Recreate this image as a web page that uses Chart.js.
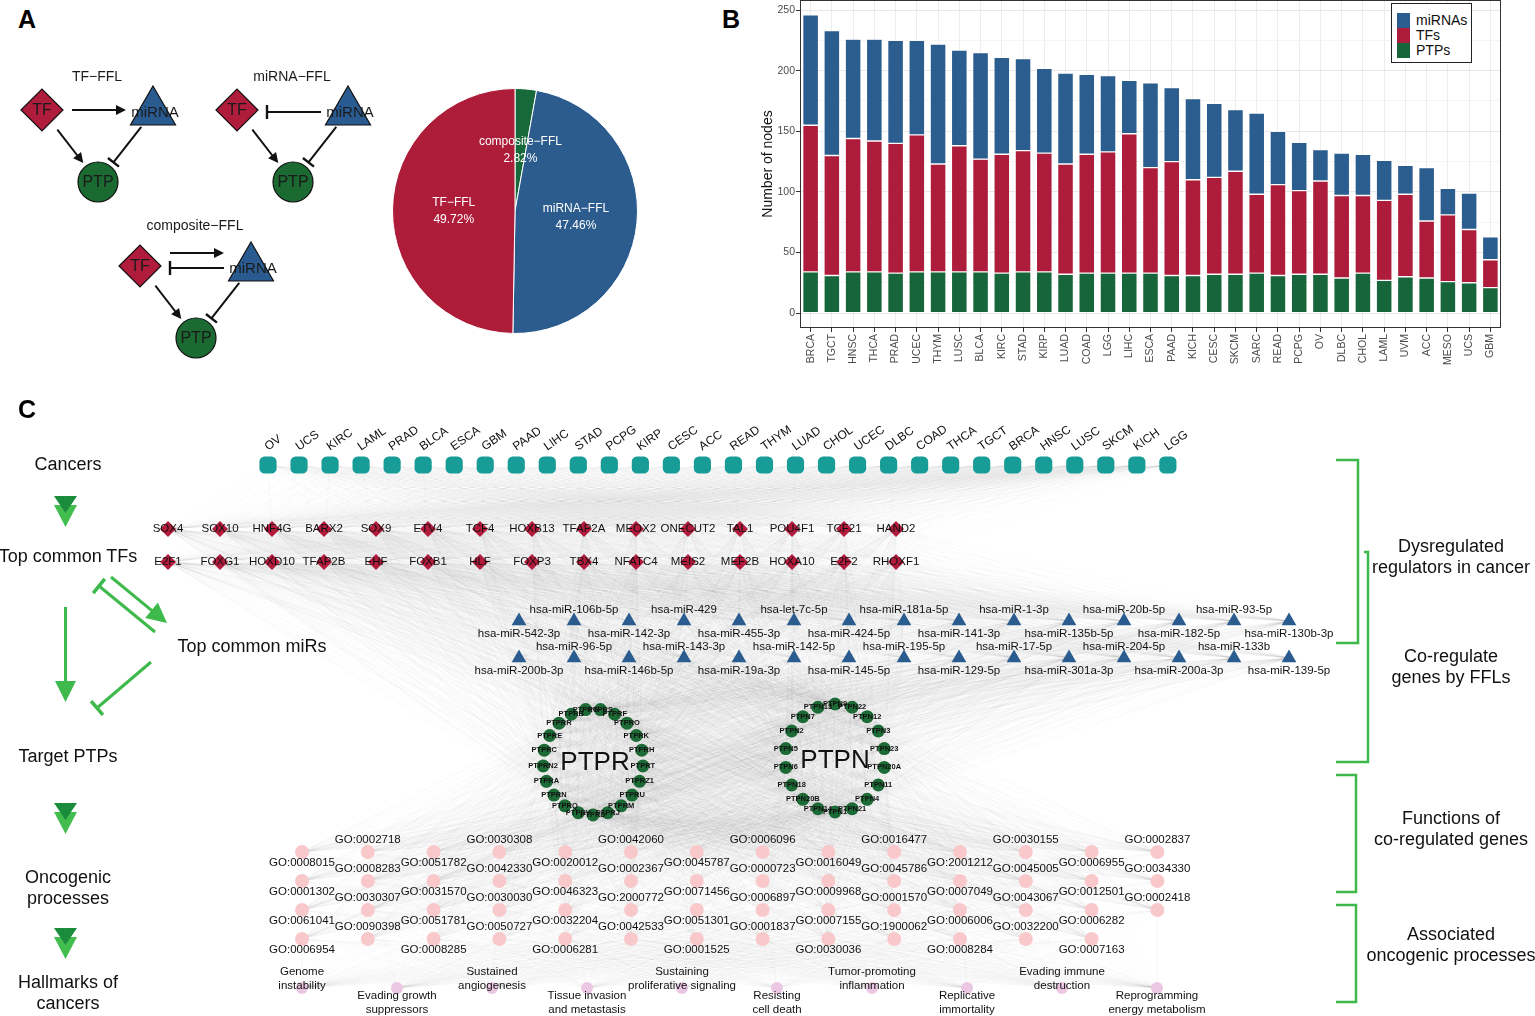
<!DOCTYPE html>
<html>
<head>
<meta charset="utf-8">
<script src="https://cdn.jsdelivr.net/npm/chart.js@4.4.1/dist/chart.umd.min.js"></script>
<style>
  body { margin: 0; background: #fff; font-family: "Liberation Sans", Arial, Helvetica, sans-serif; }
  #page { position: relative; width: 1535px; height: 1016px; overflow: hidden; }
  .box { position: absolute; }
  .letter { position: absolute; font-weight: bold; font-size: 25px; line-height: 25px; color: #000; }
  .lbl { position: absolute; transform: translate(-50%, -50%); white-space: nowrap; text-align: center;
         font-size: 18px; line-height: 21px; color: #111; }
  #legendB { position: absolute; left: 1391px; top: 3px; width: 79px; height: 58px; border: 1px solid #222; background: #fff; }
  #legendB .li { position: absolute; left: 5px; height: 15px; font-size: 14px; line-height: 15px; color: #111; }
  #legendB .li span { display: inline-block; width: 13px; height: 15px; vertical-align: top; margin-right: 6px; }
</style>
</head>
<body>
<div id="page">
  <div class="letter" style="left:18px;top:7px">A</div>
  <canvas id="motifs" class="box" style="left:0;top:40px" width="385" height="320"></canvas>
  <canvas id="pie" class="box" style="left:392px;top:88px" width="246" height="246"></canvas>

  <div class="letter" style="left:722px;top:7px">B</div>
  <canvas id="bars" class="box" style="left:730px;top:0" width="805" height="370"></canvas>
  <div id="legendB">
    <div class="li" style="top:9px"><span style="background:#2b5d8f"></span>miRNAs</div>
    <div class="li" style="top:24px"><span style="background:#ad1c3a"></span>TFs</div>
    <div class="li" style="top:39px"><span style="background:#17653a"></span>PTPs</div>
  </div>

  <canvas id="network" class="box" style="left:0;top:395px" width="1535" height="621"></canvas>
  <div class="letter" style="left:18px;top:397px">C</div>

  <div class="lbl" style="left:68px;top:464px">Cancers</div>
  <div class="lbl" style="left:68px;top:556px">Top common TFs</div>
  <div class="lbl" style="left:252px;top:646px">Top common miRs</div>
  <div class="lbl" style="left:68px;top:756px">Target PTPs</div>
  <div class="lbl" style="left:68px;top:888px">Oncogenic<br>processes</div>
  <div class="lbl" style="left:68px;top:993px">Hallmarks of<br>cancers</div>

  <div class="lbl" style="left:1451px;top:557px">Dysregulated<br>regulators in cancer</div>
  <div class="lbl" style="left:1451px;top:667px">Co-regulate<br>genes by FFLs</div>
  <div class="lbl" style="left:1451px;top:829px">Functions of<br>co-regulated genes</div>
  <div class="lbl" style="left:1451px;top:945px">Associated<br>oncogenic processes</div>
</div>

<script>
const F = '"Liberation Sans", Arial, Helvetica, sans-serif';
Chart.defaults.font.family = F;

// ---------- panel A: pie
const fflTypes = ["composite−FFL", "miRNA−FFL", "TF−FFL"];
const fflShares = [2.82, 47.46, 49.72];

// ---------- panel A: motif sketches
const motifTitles = ["TF−FFL", "miRNA−FFL", "composite−FFL"];
const motifOrigins = [[42, 110], [237, 110], [140, 266]];
const nodeRoles = ["TF", "miRNA", "PTP"];
const roleOffsets = [[0, 0], [111, 2], [56, 72]];
// [from role, to role, kind, vertical shift]
const motifEdges = [
  [[0, 1, "act", 0], [0, 2, "act", 0], [1, 2, "inh", 0]],
  [[1, 0, "inh", 0], [0, 2, "act", 0], [1, 2, "inh", 0]],
  [[0, 1, "act", -13], [1, 0, "inh", 0], [0, 2, "act", 0], [1, 2, "inh", 0]]
];

// ---------- panel B
const cancersB = ["BRCA","TGCT","HNSC","THCA","PRAD","UCEC","THYM","LUSC","BLCA","KIRC","STAD","KIRP","LUAD","COAD","LGG","LIHC",
  "ESCA","PAAD","KICH","CESC","SKCM","SARC","READ","PCPG","OV","DLBC","CHOL","LAML","UVM","ACC","MESO","UCS","GBM"];
const ptpNodes = [34,31,34,34,33,34,34,34,34,33,34,34,32,33,33,33,33,31,31,32,32,33,31,32,32,29,33,27,30,29,26,25,21];
const tfNodes = [121,99,110,108,107,113,89,104,93,98,100,98,91,98,100,115,87,94,79,80,85,65,75,69,77,68,64,66,68,47,55,44,23];
const mirnaNodes = [91,103,82,84,85,78,99,79,88,80,76,70,75,66,63,44,70,61,67,61,51,67,44,40,26,35,34,33,24,44,22,30,19];
const yTicksB = [0, 25, 50, 75, 100, 125, 150, 175, 200, 225, 250];

// ---------- panel C
const cancersC = ["OV","UCS","KIRC","LAML","PRAD","BLCA","ESCA","GBM","PAAD","LIHC","STAD","PCPG","KIRP","CESC","ACC",
  "READ","THYM","LUAD","CHOL","UCEC","DLBC","COAD","THCA","TGCT","BRCA","HNSC","LUSC","SKCM","KICH","LGG"];
const tfUpper = ["SOX4","SOX10","HNF4G","BARX2","SOX9","ETV4","TCF4","HOXB13","TFAP2A","MEOX2","ONECUT2","TAL1","POU4F1","TCF21","HAND2"];
const tfLower = ["E2F1","FOXG1","HOXD10","TFAP2B","EHF","FOXB1","HLF","FOXP3","TBX4","NFATC4","MEIS2","MEF2B","HOXA10","E2F2","RHOXF1"];
const mirUpper = ["hsa-miR-542-3p","hsa-miR-106b-5p","hsa-miR-142-3p","hsa-miR-429","hsa-miR-455-3p","hsa-let-7c-5p","hsa-miR-424-5p",
  "hsa-miR-181a-5p","hsa-miR-141-3p","hsa-miR-1-3p","hsa-miR-135b-5p","hsa-miR-20b-5p","hsa-miR-182-5p","hsa-miR-93-5p","hsa-miR-130b-3p"];
const mirLower = ["hsa-miR-200b-3p","hsa-miR-96-5p","hsa-miR-146b-5p","hsa-miR-143-3p","hsa-miR-19a-3p","hsa-miR-142-5p","hsa-miR-145-5p",
  "hsa-miR-195-5p","hsa-miR-129-5p","hsa-miR-17-5p","hsa-miR-301a-3p","hsa-miR-204-5p","hsa-miR-200a-3p","hsa-miR-133b","hsa-miR-139-5p"];
const ptprGenes = ["PTPRS","PTPRF","PTPRO","PTPRK","PTPRH","PTPRT","PTPRZ1","PTPRU","PTPRM","PTPRJ","PTPRD",
  "PTPRV","PTPRQ","PTPRN","PTPRA","PTPRN2","PTPRC","PTPRE","PTPRR","PTPRB","PTPRG"];
const ptpnGenes = ["PTPN9","PTPN22","PTPN12","PTPN3","PTPN23","PTPN20A","PTPN11","PTPN4","PTPN21","PTPN1",
  "PTPN14","PTPN20B","PTPN18","PTPN6","PTPN5","PTPN2","PTPN7","PTPN13"];
const goTerms = [
  "GO:0008015","GO:0001302","GO:0061041","GO:0006954",
  "GO:0002718","GO:0008283","GO:0030307","GO:0090398",
  "GO:0051782","GO:0031570","GO:0051781","GO:0008285",
  "GO:0030308","GO:0042330","GO:0030030","GO:0050727",
  "GO:0020012","GO:0046323","GO:0032204","GO:0006281",
  "GO:0042060","GO:0002367","GO:2000772","GO:0042533",
  "GO:0045787","GO:0071456","GO:0051301","GO:0001525",
  "GO:0006096","GO:0000723","GO:0006897","GO:0001837",
  "GO:0016049","GO:0009968","GO:0007155","GO:0030036",
  "GO:0016477","GO:0045786","GO:0001570","GO:1900062",
  "GO:2001212","GO:0007049","GO:0006006","GO:0008284",
  "GO:0030155","GO:0045005","GO:0043067","GO:0032200",
  "GO:0006955","GO:0012501","GO:0006282","GO:0007163",
  "GO:0002837","GO:0034330","GO:0002418"
];
const hallmarks = ["Genome\ninstability","Evading growth\nsuppressors","Sustained\nangiogenesis","Tissue invasion\nand metastasis",
  "Sustaining\nproliferative signaling","Resisting\ncell death","Tumor-promoting\ninflammation","Replicative\nimmortality",
  "Evading immune\ndestruction","Reprogramming\nenergy metabolism"];

const roleColors = ["#b01c3c", "#2a5b90", "#1a6a31"];
const noUi = { legend: { display: false }, tooltip: { enabled: false } };

// ================= pie =================
const pieLabels = {
  id: "pieLabels",
  afterDatasetsDraw(chart) {
    const { ctx } = chart;
    ctx.save();
    ctx.fillStyle = "#fff";
    ctx.font = "12px " + F;
    ctx.textAlign = "center";
    ctx.textBaseline = "middle";
    chart.getDatasetMeta(0).data.forEach((arc, i) => {
      const p = arc.tooltipPosition();
      ctx.fillText(fflTypes[i], p.x, p.y - 8);
      ctx.fillText(fflShares[i].toFixed(2) + "%", p.x, p.y + 9);
    });
    ctx.restore();
  }
};
new Chart(document.getElementById("pie"), {
  type: "pie",
  data: { labels: fflTypes, datasets: [{ data: fflShares, backgroundColor: ["#18693a", "#2c5c8e", "#ad1d3a"], borderColor: "#fff", borderWidth: 1 }] },
  options: { responsive: false, animation: false, events: [], layout: { padding: 0 }, plugins: noUi },
  plugins: [pieLabels]
});

// ================= motif sketches =================
const motifNodes = [];
motifOrigins.forEach((o, m) => roleOffsets.forEach((d, r) => motifNodes.push({ x: o[0] + d[0], y: o[1] + d[1], motif: m, role: r })));
const trims = { "01": [30, 27], "10": [27, 30], "02": [25, 24], "12": [19, 25] };

function drawLink(ctx, x1, y1, x2, y2, kind, color, lw, head) {
  const dx = x2 - x1, dy = y2 - y1, L = Math.hypot(dx, dy), ux = dx / L, uy = dy / L;
  ctx.strokeStyle = color; ctx.fillStyle = color; ctx.lineWidth = lw;
  ctx.beginPath();
  const endX = kind === "act" ? x2 - ux * head * 0.8 : x2, endY = kind === "act" ? y2 - uy * head * 0.8 : y2;
  ctx.moveTo(x1, y1); ctx.lineTo(endX, endY); ctx.stroke();
  if (kind === "act") {
    ctx.beginPath();
    ctx.moveTo(x2, y2);
    ctx.lineTo(x2 - ux * head - uy * head * 0.5, y2 - uy * head + ux * head * 0.5);
    ctx.lineTo(x2 - ux * head + uy * head * 0.5, y2 - uy * head - ux * head * 0.5);
    ctx.closePath(); ctx.fill();
  } else {
    const b = head * 0.7;
    ctx.beginPath();
    ctx.moveTo(x2 - uy * b, y2 + ux * b); ctx.lineTo(x2 + uy * b, y2 - ux * b);
    ctx.lineWidth = lw * 1.2; ctx.stroke();
  }
}

const motifDecor = {
  id: "motifDecor",
  beforeDatasetsDraw(chart) {
    const { ctx, scales: { x, y } } = chart;
    ctx.save();
    motifEdges.forEach((edges, m) => edges.forEach(([a, b, kind, shift]) => {
      const p = motifNodes[m * 3 + a], q = motifNodes[m * 3 + b];
      const [s, e] = trims["" + a + b];
      const x1 = x.getPixelForValue(p.x), y1 = y.getPixelForValue(p.y);
      const x2 = x.getPixelForValue(q.x), y2 = y.getPixelForValue(q.y);
      const L = Math.hypot(x2 - x1, y2 - y1), ux = (x2 - x1) / L, uy = (y2 - y1) / L;
      const horiz = Math.abs(uy) < 0.1;
      const sy = horiz ? y1 + shift : 0;
      drawLink(ctx, x1 + ux * s, horiz ? sy : y1 + uy * s, x2 - ux * e, horiz ? sy : y2 - uy * e, kind, "#111", 2, 10);
    }));
    ctx.restore();
  },
  afterDatasetsDraw(chart) {
    const { ctx, scales: { x, y } } = chart;
    ctx.save();
    ctx.textAlign = "center"; ctx.textBaseline = "middle";
    ctx.fillStyle = "#1a1a1a";
    motifNodes.forEach(p => {
      ctx.font = (p.role === 1 ? "15px " : "16px ") + F;
      ctx.fillText(nodeRoles[p.role], x.getPixelForValue(p.x + (p.role === 1 ? 2 : 0)), y.getPixelForValue(p.y + 1));
    });
    ctx.font = "14px " + F;
    motifOrigins.forEach((o, m) => {
      ctx.fillText(motifTitles[m], x.getPixelForValue(o[0] + 55), y.getPixelForValue(o[1] - (m === 2 ? 40 : 33)));
    });
    ctx.restore();
  }
};
new Chart(document.getElementById("motifs"), {
  type: "scatter",
  data: { datasets: [{
    data: motifNodes, clip: false,
    pointStyle: motifNodes.map(p => ["rectRot", "triangle", "circle"][p.role]),
    pointRadius: motifNodes.map(p => [21, 26, 20][p.role]),
    backgroundColor: motifNodes.map(p => roleColors[p.role]),
    borderColor: "#111", borderWidth: 1.2
  }] },
  options: {
    responsive: false, animation: false, events: [], layout: { padding: 0, autoPadding: false }, plugins: noUi,
    scales: { x: { type: "linear", min: 0, max: 385, display: false }, y: { type: "linear", min: 40, max: 360, reverse: true, display: false } }
  },
  plugins: [motifDecor]
});

// ================= bar chart =================
const panelBorder = {
  id: "panelBorder",
  afterDraw(chart) {
    const { ctx, chartArea: a } = chart;
    ctx.save();
    ctx.strokeStyle = "#333"; ctx.lineWidth = 1;
    ctx.strokeRect(a.left + 0.5, a.top + 0.5, a.width - 1, a.height - 1);
    ctx.restore();
  }
};
const barStyle = { borderColor: "rgba(255,255,255,0.75)", borderWidth: 0.7, borderSkipped: false, barPercentage: 0.75, categoryPercentage: 1 };
new Chart(document.getElementById("bars"), {
  type: "bar",
  data: {
    labels: cancersB,
    datasets: [
      { label: "PTPs", data: ptpNodes, backgroundColor: "#17653a", ...barStyle },
      { label: "TFs", data: tfNodes, backgroundColor: "#ad1c3a", ...barStyle },
      { label: "miRNAs", data: mirnaNodes, backgroundColor: "#2b5d8f", ...barStyle }
    ]
  },
  options: {
    responsive: false, animation: false, events: [],
    layout: { padding: { top: 0, right: 34, left: 0, bottom: 0 } },
    plugins: noUi,
    scales: {
      x: {
        stacked: true, offset: true,
        grid: { offset: false, color: "#ededed", tickColor: "#333", tickLength: 4 },
        border: { display: false },
        ticks: { autoSkip: false, minRotation: 90, maxRotation: 90, color: "#4d4d4d", font: { size: 10.5 }, padding: 2 },
        afterFit: s => { s.height = 42; s.paddingLeft = 0; s.paddingRight = 0; }
      },
      y: {
        stacked: true, min: -12.3, max: 258.3,
        afterBuildTicks: s => { s.ticks = yTicksB.map(v => ({ value: v })); },
        grid: {
          color: c => (c.tick && c.tick.value % 50 === 0) ? "#e8e8e8" : "#f5f5f5",
          tickColor: c => (c.tick && c.tick.value % 50 === 0) ? "#333" : "rgba(0,0,0,0)",
          tickLength: 4
        },
        border: { display: false },
        ticks: { callback: v => (v % 50 === 0 ? v : ""), color: "#4d4d4d", font: { size: 10.5 }, padding: 1 },
        title: { display: true, text: "Number of nodes", color: "#111", font: { size: 14 }, padding: { top: 30, bottom: 0 } },
        afterFit: s => { s.width = 70; s.paddingTop = 0; s.paddingBottom = 0; }
      }
    }
  },
  plugins: [panelBorder]
});

// ================= network =================
function ring(names, cx, cy, rx, ry, start) {
  return names.map((n, i) => {
    const a = -Math.PI / 2 + start + i * 2 * Math.PI / names.length;
    return { x: cx + rx * Math.cos(a), y: cy + ry * Math.sin(a), name: n };
  });
}
const net = {
  cancer: cancersC.map((n, i) => ({ x: 268 + i * 31.03, y: 465, name: n })),
  tf: tfUpper.map((n, i) => ({ x: 168 + i * 52, y: 529, name: n }))
      .concat(tfLower.map((n, i) => ({ x: 168 + i * 52, y: 562, name: n }))),
  mir: mirUpper.map((n, i) => ({ x: 519 + i * 55, y: 621, name: n, i }))
      .concat(mirLower.map((n, i) => ({ x: 519 + i * 55, y: 658, name: n, i }))),
  ptp: ring(ptprGenes, 593, 762, 50, 53, Math.PI / 21).concat(ring(ptpnGenes, 835, 758, 50, 54, 0)),
  go: goTerms.map((n, k) => ({ x: 302 + Math.floor(k / 4) * 65.8, y: 852 + (k % 4) * 29, name: n, col: Math.floor(k / 4) })),
  hall: hallmarks.map((n, i) => ({ x: 302 + i * 95, y: 988, name: n, i }))
};
const layerLinks = [["cancer", "tf"], ["tf", "mir"], ["tf", "ptp"], ["mir", "ptp"], ["ptp", "go"], ["go", "hall"]];

const brackets = [
  [[1336, 460], [1358, 460], [1358, 643], [1336, 643]],
  [[1364, 552], [1368, 552], [1368, 762], [1336, 762]],
  [[1336, 775], [1356, 775], [1356, 892], [1336, 892]],
  [[1336, 905], [1356, 905], [1356, 1002], [1336, 1002]]
];
const chevronTops = [496, 803, 928];

const networkDecor = {
  id: "networkDecor",
  beforeDatasetsDraw(chart) {
    const { ctx, scales: { x, y } } = chart;
    const X = v => x.getPixelForValue(v), Y = v => y.getPixelForValue(v);
    ctx.save();
    // faint edges
    ctx.strokeStyle = "rgba(90,90,90,0.028)";
    ctx.lineWidth = 0.6;
    layerLinks.forEach(([a, b]) => net[a].forEach(p => net[b].forEach(q => {
      ctx.beginPath(); ctx.moveTo(X(p.x), Y(p.y)); ctx.lineTo(X(q.x), Y(q.y)); ctx.stroke();
    })));
    // brackets
    ctx.strokeStyle = "#3cb94a"; ctx.lineWidth = 2.5; ctx.lineJoin = "miter";
    brackets.forEach(b => {
      ctx.beginPath();
      b.forEach(([px, py], i) => i ? ctx.lineTo(X(px), Y(py)) : ctx.moveTo(X(px), Y(py)));
      ctx.stroke();
    });
    // chevrons
    chevronTops.forEach(t => {
      ctx.fillStyle = "#44bd4f";
      ctx.beginPath(); ctx.moveTo(X(54), Y(t + 9)); ctx.lineTo(X(77), Y(t + 9)); ctx.lineTo(X(65.5), Y(t + 31)); ctx.closePath(); ctx.fill();
      ctx.fillStyle = "#1b8c3c";
      ctx.beginPath(); ctx.moveTo(X(54), Y(t)); ctx.lineTo(X(77), Y(t)); ctx.lineTo(X(65.5), Y(t + 17)); ctx.closePath(); ctx.fill();
    });
    // flow arrows
    const g = "#3dba4b";
    drawLink(ctx, X(65.5), Y(607), X(65.5), Y(702), "act", g, 3, 21);
    drawLink(ctx, X(111), Y(577), X(167), Y(623), "act", g, 3, 20);
    drawLink(ctx, X(155), Y(632), X(99), Y(586), "inh", g, 3, 13);
    drawLink(ctx, X(151), Y(662), X(97), Y(708), "inh", g, 3, 13);
    ctx.restore();
  },
  afterDatasetsDraw(chart) {
    const { ctx, scales: { x, y } } = chart;
    const X = v => x.getPixelForValue(v), Y = v => y.getPixelForValue(v);
    ctx.save();
    ctx.fillStyle = "#111";
    ctx.textBaseline = "middle";
    // cancers (rotated)
    ctx.font = "12px " + F; ctx.textAlign = "left";
    net.cancer.forEach(p => {
      ctx.save(); ctx.translate(X(p.x - 2), Y(p.y - 17)); ctx.rotate(-35 * Math.PI / 180);
      ctx.fillText(p.name, 0, 0); ctx.restore();
    });
    ctx.textAlign = "center";
    ctx.font = "11.5px " + F;
    net.tf.forEach(p => ctx.fillText(p.name, X(p.x), Y(p.y)));
    net.mir.forEach(p => ctx.fillText(p.name, X(p.x), Y(p.y + (p.i % 2 ? -11 : 13))));
    ctx.font = "bold 7.5px " + F;
    net.ptp.forEach(p => ctx.fillText(p.name, X(p.x), Y(p.y)));
    ctx.font = "26px " + F;
    ctx.fillText("PTPR", X(595), Y(763));
    ctx.fillText("PTPN", X(835), Y(761));
    ctx.font = "11.5px " + F;
    net.go.forEach(p => ctx.fillText(p.name, X(p.x), Y(p.y + (p.col % 2 ? -12 : 11))));
    ctx.font = "11.5px " + F;
    net.hall.forEach(p => {
      const lines = p.name.split("\n");
      const base = p.i % 2 ? p.y + 8 : p.y - 16;
      lines.forEach((l, k) => ctx.fillText(l, X(p.x), Y(base + k * 14)));
    });
    ctx.restore();
  }
};

const nodeSet = (pts, style, r, color) => ({ data: pts, pointStyle: style, pointRadius: r, backgroundColor: color, borderWidth: 0, clip: false });
new Chart(document.getElementById("network"), {
  type: "scatter",
  data: { datasets: [
    nodeSet(net.go, "circle", 7, "#f8c8cb"),
    nodeSet(net.hall, "circle", 6, "#ecc7e3"),
    nodeSet(net.ptp, "circle", 6.5, "#1c6a35"),
    nodeSet(net.mir, "triangle", 8.5, "#2b5c8f"),
    nodeSet(net.tf, "rectRot", 8, "#b31b3d"),
    nodeSet(net.cancer, "rectRounded", 10, "#189c97")
  ] },
  options: {
    responsive: false, animation: false, events: [], layout: { padding: 0, autoPadding: false }, plugins: noUi,
    scales: { x: { type: "linear", min: 0, max: 1535, display: false }, y: { type: "linear", min: 395, max: 1016, reverse: true, display: false } }
  },
  plugins: [networkDecor]
});
</script>
</body>
</html>
